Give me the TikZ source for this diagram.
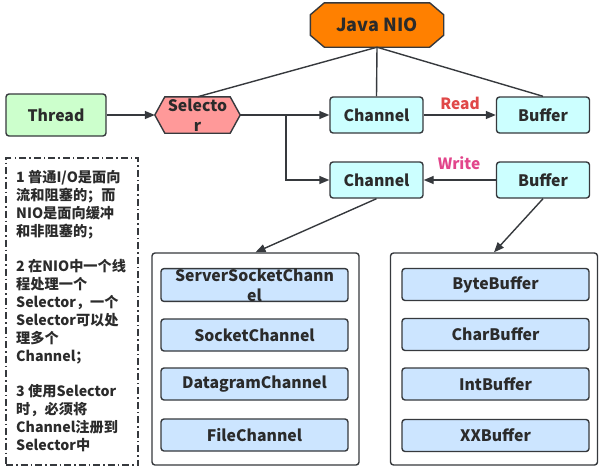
\documentclass[tikz,border=0pt]{standalone}
\usepackage{fontspec}
\setmainfont{Noto Sans CJK SC}
\usetikzlibrary{arrows.meta,backgrounds}
\definecolor{lnc}{HTML}{36393D}
\definecolor{txtc}{HTML}{2B2B2B}
\definecolor{nioc}{HTML}{FF8000}
\definecolor{greenc}{HTML}{CCFFCC}
\definecolor{selc}{HTML}{FF9999}
\definecolor{cyanc}{HTML}{CCFFFF}
\definecolor{itemc}{HTML}{CCE5FF}
\definecolor{readc}{HTML}{E04848}
\definecolor{writec}{HTML}{E2458B}
\tikzset{
  lin/.style={draw=lnc, line width=1.4pt},
  arr/.style={lin, -{Triangle[length=10pt,width=8pt]}},
  box/.style={lin, rounded corners=3pt, minimum width=93pt, minimum height=36pt, inner sep=0pt},
  cyanbox/.style={box, fill=cyanc},
  item/.style={lin, rounded corners=3pt, fill=itemc, minimum width=187pt, minimum height=32pt, inner sep=0pt},
  container/.style={lin, rounded corners=3pt, fill=white, minimum width=207pt, minimum height=212pt, inner sep=0pt},
  lbl/.style={inner sep=0pt, font=\bfseries\fontsize{15.5}{18}\selectfont}
}
\begin{document}
\begin{tikzpicture}[x=1pt,y=-1pt, font=\bfseries\fontsize{15.8}{20}\selectfont, text=txtc]
\useasboundingbox (0,0) rectangle (599,469);
% top
\node[minimum width=133pt, minimum height=44pt, inner sep=0pt, font=\bfseries\fontsize{18}{20}\selectfont] (nio) at (377,25) {Java NIO};
\node[box, fill=greenc, minimum width=100pt, minimum height=42pt] (thread) at (56,115) {Thread};
\node[minimum width=85pt, minimum height=36pt, inner sep=0pt, align=center] (sel) at (197.5,115) {Selecto\\r};
\node[cyanbox] (ch1) at (376.5,115) {Channel};
\node[cyanbox] (buf1) at (543,115) {Buffer};
\node[cyanbox] (ch2) at (376.5,180) {Channel};
\node[cyanbox] (buf2) at (543,180) {Buffer};
\begin{scope}[on background layer]
\draw[lin, fill=nioc] ([xshift=14pt]nio.north west) -- ([xshift=-14pt]nio.north east)
  -- ([yshift=-12pt]nio.north east) -- ([yshift=12pt]nio.south east)
  -- ([xshift=-14pt]nio.south east) -- ([xshift=14pt]nio.south west)
  -- ([yshift=12pt]nio.south west) -- ([yshift=-12pt]nio.north west) -- cycle;
\draw[lin, fill=selc] (sel.west) -- ([xshift=10pt]sel.north west) -- ([xshift=-10pt]sel.north east)
  -- (sel.east) -- ([xshift=-10pt]sel.south east) -- ([xshift=10pt]sel.south west) -- cycle;
\end{scope}
% connectors
\draw[lin] (nio.south) -- (sel.north);
\draw[lin] (nio.south) -- (ch1.north);
\draw[lin] (nio.south) -- (buf1.north);
\draw[arr] (thread.east) -- (sel.west);
\draw[arr] (sel.east) -- (ch1.west);
\coordinate (br) at (286,115);
\draw[arr] (br) |- (ch2.west);
\draw[arr] (ch1.east) -- (buf1.west);
\draw[arr] (buf2.west) -- (ch2.east);
\node[lbl, text=readc] (read) at (460,103) {Read};
\node[lbl, text=writec] (write) at (459,163) {Write};
% containers
\node[container] (lc) at (255.5,359) {};
\node[container] (rc) at (494,359) {};
\draw[arr] (ch2.south) -- (lc.north);
\draw[arr] (buf2.south) -- (rc.north);
\node[item, align=center] (ssc) at (254.5,285) {ServerSocketChann\\el};
\node[item] (sc) at (254.5,335) {SocketChannel};
\node[item] (dc) at (254.5,384) {DatagramChannel};
\node[item] (fc) at (254.5,435) {FileChannel};
\node[item] (bb) at (495.5,284.5) {ByteBuffer};
\node[item] (cb) at (495.5,334.5) {CharBuffer};
\node[item] (ib) at (495.5,384) {IntBuffer};
\node[item] (xb) at (495.5,435.5) {XXBuffer};
% note
\node[lin, dash pattern=on 7pt off 3pt on 1.5pt off 3pt, minimum width=132pt, minimum height=307pt, inner sep=0pt] (note) at (72,311.5) {};
\node[anchor=north west, align=left, inner sep=0pt, font=\bfseries\fontsize{14.2}{18}\selectfont] (notetext) at (16,170)
{1 普通I/O是面向\\流和阻塞的；而\\NIO是面向缓冲\\和非阻塞的；\\[17pt]
2 在NIO中一个线\\程处理一个\\Selector，一个\\Selector可以处\\理多个\\Channel；\\[17pt]
3 使用Selector\\时，必须将\\Channel注册到\\Selector中};
\end{tikzpicture}
\end{document}
